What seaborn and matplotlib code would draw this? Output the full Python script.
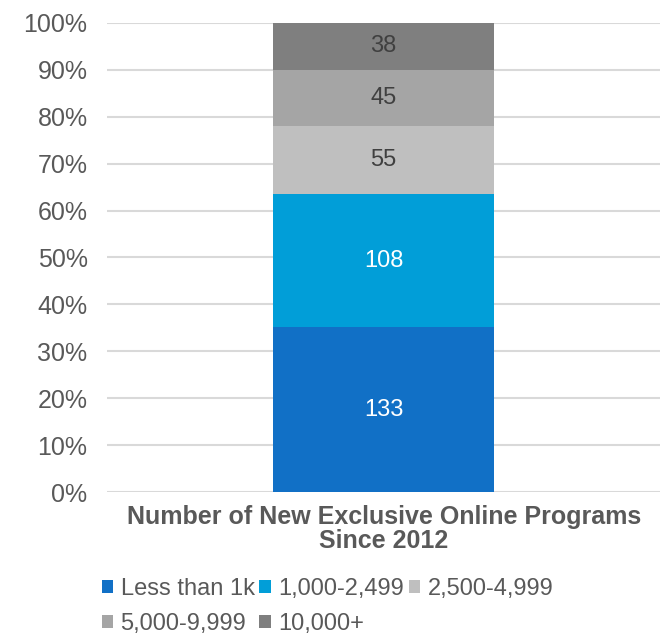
import numpy as np
import pandas as pd
import seaborn as sns
import matplotlib.pyplot as plt

# data
categories = ['Less than 1k', '1,000-2,499', '2,500-4,999', '5,000-9,999', '10,000+']
counts = [133, 108, 55, 45, 38]
colors = ['#1170C6', '#019ED8', '#BFBFBF', '#A5A5A5', '#7F7F7F']
label_colors = ['white', 'white', '#404040', '#404040', '#404040']
group = 'Number of New Exclusive Online Programs\nSince 2012'

total = sum(counts)
pct = np.array(counts) / total * 100
cum = np.cumsum(pct)

df = pd.DataFrame({'cat': categories, 'count': counts, 'pct': pct, 'cum': cum, 'group': group})

sns.set_style('white')
plt.rcParams['font.family'] = ['Liberation Sans', 'DejaVu Sans']
txt = '#595959'

fig = plt.figure(figsize=(6.69, 6.37), dpi=100)
ax = fig.add_axes([0.16, 0.2276, 0.827, 0.7364])

# stacked bar: draw cumulative heights from top down so each covers the one above
for i in reversed(range(len(categories))):
    sns.barplot(data=df.iloc[[i]], x='group', y='cum', color=colors[i], width=0.4,
                saturation=1, ax=ax, zorder=3, label=categories[i], linewidth=0)

# annotate counts in the middle of each segment
for i in range(len(categories)):
    mid = cum[i] - pct[i] / 2
    ax.text(0, mid, str(counts[i]), ha='center', va='center', fontsize=17,
            color=label_colors[i], zorder=4)

ax.set_ylim(0, 100)
ax.set_xlim(-0.5, 0.5)
ax.set_yticks(range(0, 101, 10))
ax.set_yticklabels([f'{v}%' for v in range(0, 101, 10)])
ax.yaxis.grid(True, color='#D9D9D9', linewidth=1.5, zorder=0)
ax.set_axisbelow(True)
for s in ax.spines.values():
    s.set_visible(False)
ax.set_xlabel('')
ax.set_ylabel('')
ax.tick_params(axis='y', length=0, pad=14, labelsize=18, labelcolor=txt)
ax.tick_params(axis='x', length=0, pad=9, labelsize=18, labelcolor=txt)
for t in ax.get_xticklabels():
    t.set_fontweight('bold')
    t.set_linespacing(1.0)

# legend: reorder so entries fill row by row
handles, labels = ax.get_legend_handles_labels()
lookup = dict(zip(labels, handles))
order = [0, 3, 1, 4, 2]
leg_h = [lookup[categories[k]] for k in order]
leg_l = [categories[k] for k in order]
if ax.legend_:
    ax.legend_.remove()
fig.legend(leg_h, leg_l, loc='upper left', bbox_to_anchor=(0.152, 0.093), ncol=3,
           frameon=False, fontsize=17, labelcolor=txt, handlelength=0.5, handleheight=0.5,
           handletextpad=0.3, columnspacing=0.2, labelspacing=0.55, borderpad=0,
           borderaxespad=0)

fig.savefig('out.png', dpi=100)
